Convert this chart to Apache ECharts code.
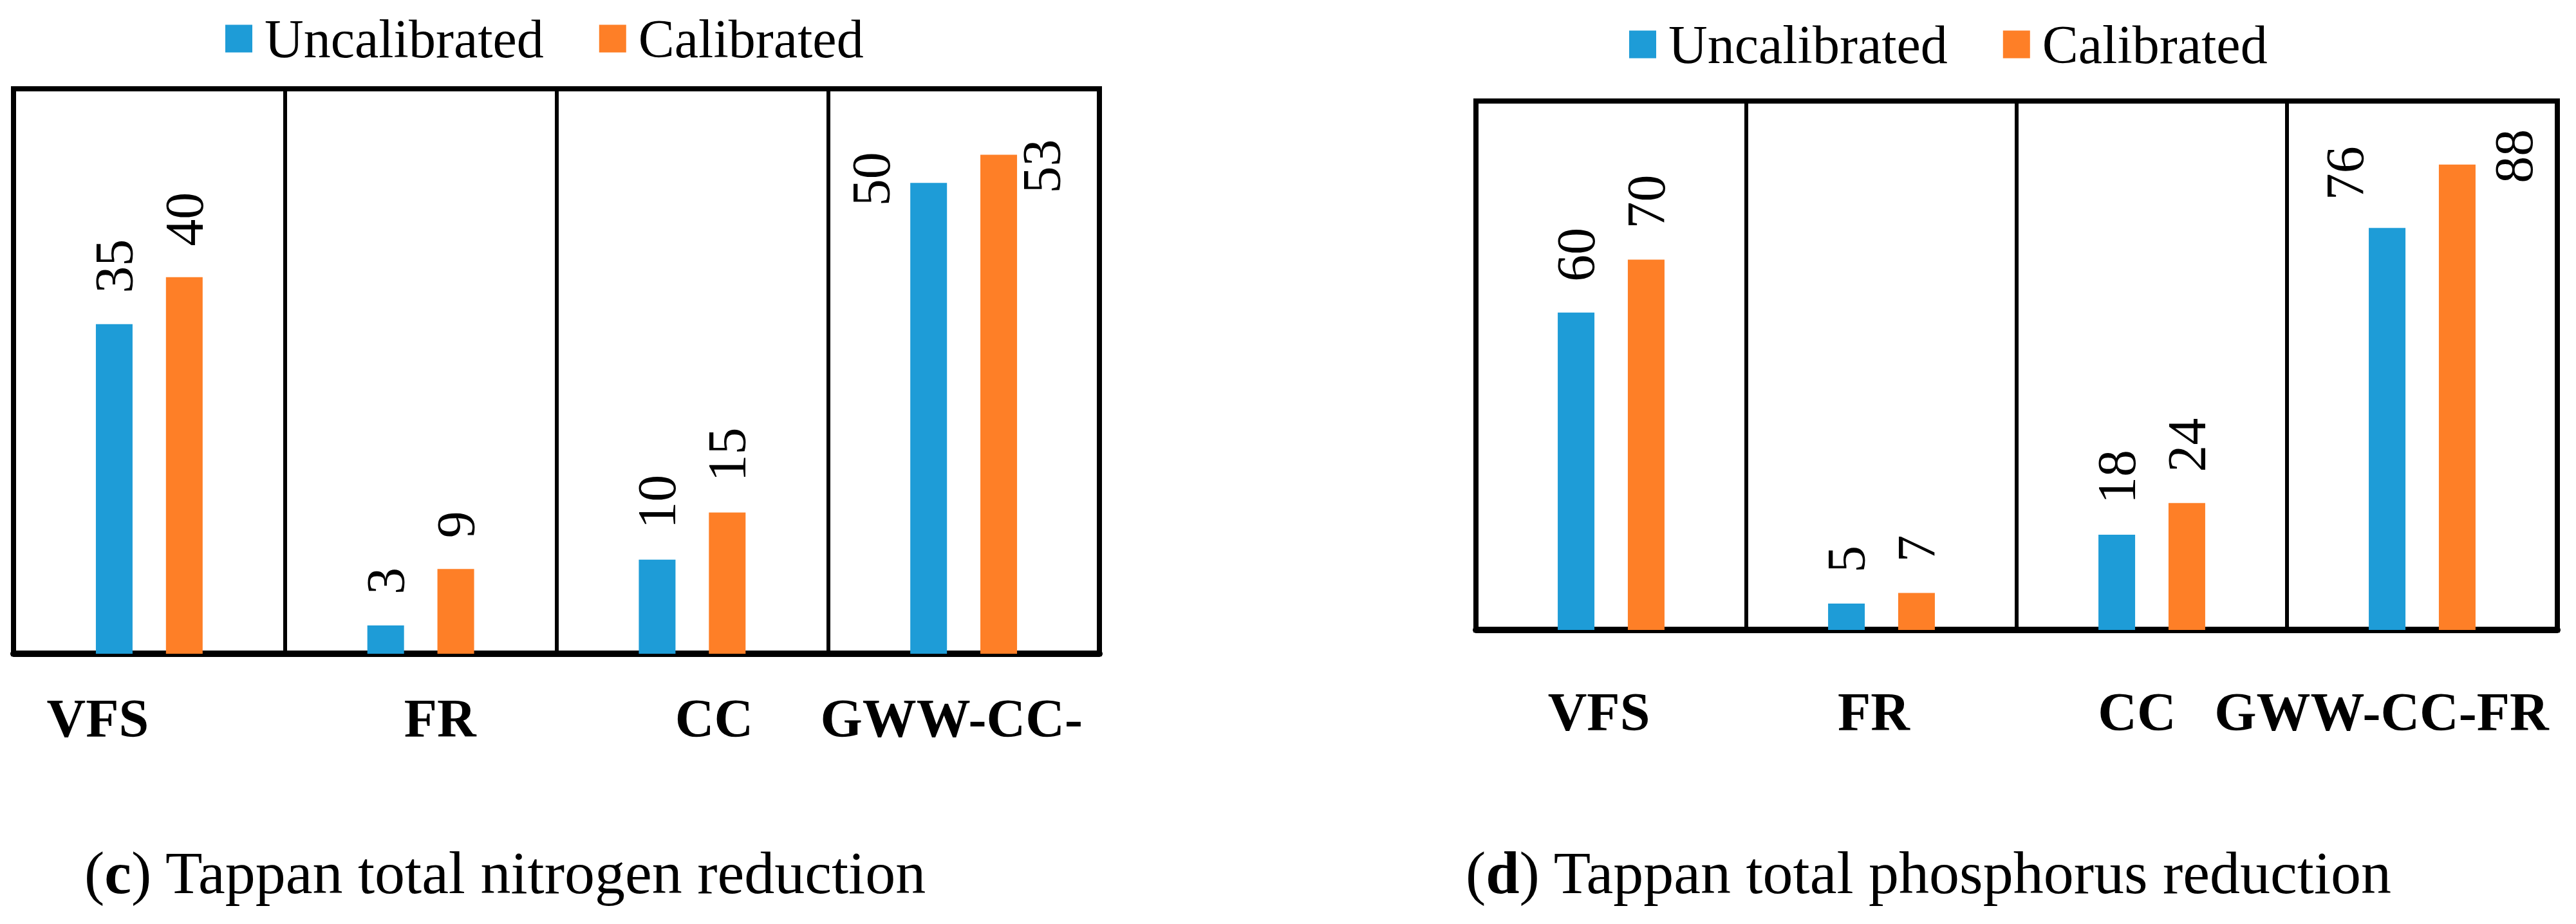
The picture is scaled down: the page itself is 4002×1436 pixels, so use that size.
<!DOCTYPE html>
<html><head><meta charset="utf-8">
<script src="https://cdn.jsdelivr.net/npm/echarts@6/dist/echarts.min.js"></script>
<style>html,body{margin:0;padding:0;background:#fff}#c{width:4002px;height:1436px}</style>
</head><body><div id="c"></div>
<script>
// ---- data ----
const categoriesN = ['VFS', 'FR', 'CC', 'GWW-CC-'];
const categoriesP = ['VFS', 'FR', 'CC', 'GWW-CC-FR'];
const seriesNames = ['Uncalibrated', 'Calibrated'];
const nitrogenUncal = [35, 3, 10, 50];
const nitrogenCal = [40, 9, 15, 53];
const phosUncal = [60, 5, 18, 76];
const phosCal = [70, 7, 24, 88];
const captionN = ['c', ') Tappan total nitrogen reduction'];
const captionP = ['d', ') Tappan total phosphorus reduction'];

// ---- style / layout ----
const BLUE = '#1E9CD7', ORANGE = '#FE7F27';
const FONT = '"Liberation Serif", "Times New Roman", Tinos, serif';
const FS = 84;
const TFS = 94;
const shiftN = [-80, 30, 34, -19];
const shiftP = [-19, -12, -23, -63];
// label offsets (in rotated label frame) for the manually placed labels
const specialOffsets = {
  nU: {3: [-84, -89]},
  nC: {3: [-108, 67]},
  pU: {3: [-5, -65]},
  pC: {3: [-77, 88]}
};

function richFor(shifts) {
  const r = {};
  shifts.forEach((d, i) => {
    r['s' + i] = {
      fontFamily: FONT, fontSize: FS, fontWeight: 'bold', color: '#000',
      padding: d >= 0 ? [0, 0, 0, 2 * d] : [0, -2 * d, 0, 0]
    };
  });
  return r;
}

function xAxis(gridIndex, cats, shifts, margin) {
  return {
    type: 'category', gridIndex, data: cats,
    axisTick: {show: false},
    axisLine: {show: true, lineStyle: {color: '#000', width: 10}},
    splitLine: {show: true, interval: 0, lineStyle: {color: '#000', width: 6}},
    axisLabel: {
      interval: 0, margin,
      formatter: (v, i) => '{s' + i + '|' + v + '}',
      rich: richFor(shifts)
    }
  };
}

function barSeries(name, xi, values, color, specials) {
  return {
    type: 'bar', name, xAxisIndex: xi, yAxisIndex: xi,
    barWidth: 57, barGap: '91%',
    itemStyle: {color},
    data: values.map((v, i) => specials[i] ? {value: v, label: {offset: specials[i]}} : v),
    label: {
      show: true, position: 'top', distance: 48, rotate: 90,
      align: 'left', verticalAlign: 'middle',
      fontFamily: FONT, fontSize: FS, fontWeight: 400, color: '#000'
    }
  };
}

function caption(left, parts) {
  return {
    left, top: 1304,
    text: '{n|(}{b|' + parts[0] + '}{n|' + parts[1] + '}',
    textStyle: {
      fontFamily: FONT, fontSize: TFS, fontWeight: 400, color: '#000',
      rich: {
        n: {fontFamily: FONT, fontSize: TFS, color: '#000', fontWeight: 400},
        b: {fontFamily: FONT, fontSize: TFS, color: '#000', fontWeight: 'bold'}
      }
    }
  };
}

function legend(left, top) {
  return {
    left, top, icon: 'rect', itemWidth: 42, itemHeight: 43, itemGap: 86,
    data: seriesNames,
    formatter: n => '{t|' + n + '}',
    textStyle: {
      fontFamily: FONT, fontSize: FS, color: '#000', fontWeight: 400,
      rich: {t: {fontFamily: FONT, fontSize: FS, color: '#000', fontWeight: 400, padding: [0, 0, 0, 14]}}
    }
  };
}

const chart = echarts.init(document.getElementById('c'), null, {renderer: 'svg'});
chart.setOption({
  animation: false,
  backgroundColor: '#fff',
  textStyle: {fontFamily: FONT},
  title: [caption(126, captionN), caption(2272, captionP)],
  legend: [legend(345, 13), legend(2526, 22)],
  grid: [
    {left: 21, top: 138, width: 1687, height: 878, show: true, borderColor: '#000', borderWidth: 8, containLabel: false},
    {left: 2293, top: 157, width: 1680, height: 822, show: true, borderColor: '#000', borderWidth: 8, containLabel: false}
  ],
  xAxis: [xAxis(0, categoriesN, shiftN, 58), xAxis(1, categoriesP, shiftP, 85)],
  yAxis: [
    {type: 'value', gridIndex: 0, min: 0, max: 60, show: false},
    {type: 'value', gridIndex: 1, min: 0, max: 100, show: false}
  ],
  series: [
    barSeries(seriesNames[0], 0, nitrogenUncal, BLUE, specialOffsets.nU),
    barSeries(seriesNames[1], 0, nitrogenCal, ORANGE, specialOffsets.nC),
    barSeries(seriesNames[0], 1, phosUncal, BLUE, specialOffsets.pU),
    barSeries(seriesNames[1], 1, phosCal, ORANGE, specialOffsets.pC)
  ]
});
</script></body></html>
